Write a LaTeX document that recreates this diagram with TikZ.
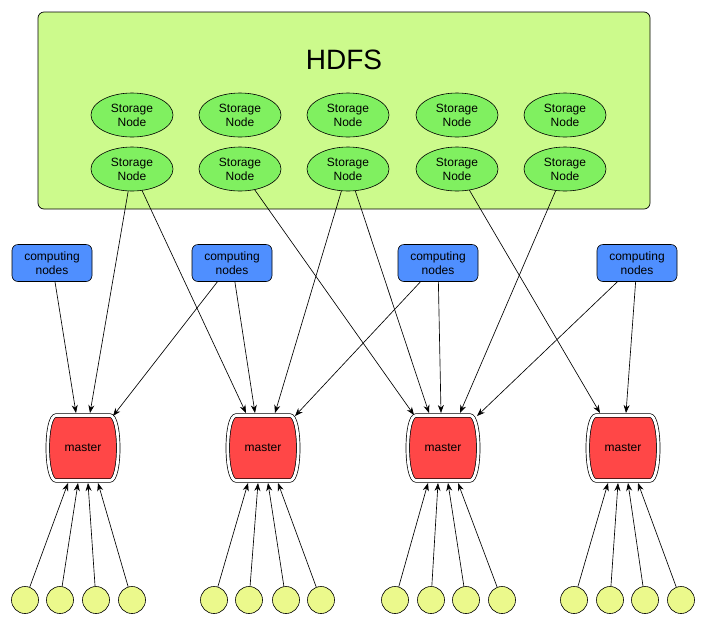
\documentclass[tikz,border=0pt]{standalone}
\usepackage{fontspec}
\setmainfont{Liberation Sans}
\usetikzlibrary{arrows.meta,calc,shapes.geometric}
\definecolor{hdfsfill}{HTML}{CCFA8C}
\definecolor{stfill}{HTML}{80F060}
\definecolor{cnfill}{HTML}{4F8FFF}
\definecolor{mfill}{HTML}{FF4747}
\definecolor{cfill}{HTML}{EBF98C}
\tikzset{
  hdfsbox/.style={draw,fill=hdfsfill,rounded corners=6pt,line width=0.7pt},
  stnode/.style={ellipse,draw,fill=stfill,minimum width=82pt,minimum height=44pt,inner sep=0pt,align=center,font=\fontsize{12}{14}\selectfont,line width=0.6pt},
  cnnode/.style={rectangle,draw,fill=cnfill,rounded corners=6pt,minimum width=80pt,minimum height=37pt,inner sep=0pt,align=center,font=\fontsize{12}{14}\selectfont,line width=0.6pt},
  mnode/.style={rectangle,minimum width=75pt,minimum height=69pt,inner sep=0pt,font=\fontsize{12}{14}\selectfont},
  mshape/.style={fill=mfill,draw=black,double=white,double distance=2.8pt,line width=0.7pt},
  cnode/.style={circle,draw,fill=cfill,minimum size=27pt,inner sep=0pt,line width=0.6pt},
  arr/.style={-{Stealth[length=8pt,width=6pt]},line width=0.65pt}
}
\begin{document}
\begin{tikzpicture}[x=1pt,y=-1pt]
\useasboundingbox (0,0) rectangle (706,625);
% HDFS container
\draw[hdfsbox] (38,12) rectangle (650,209);
\node[font=\fontsize{28}{32}\selectfont] (hdfs) at (344,60) {HDFS};
% storage nodes
\foreach \i/\x in {1/132,2/240,3/348,4/457,5/565}{
  \node[stnode] (a\i) at (\x,115) {Storage\\Node};
  \node[stnode] (s\i) at (\x,169) {Storage\\Node};
}
% computing nodes
\node[cnnode] (cn1) at (52,263) {computing\\nodes};
\node[cnnode] (cn2) at (232,263) {computing\\nodes};
\node[cnnode] (cn3) at (438,263) {computing\\nodes};
\node[cnnode] (cn4) at (637,263) {computing\\nodes};
% masters
\foreach \i/\x in {1/83,2/263,3/443,4/623}{
  \begin{scope}[shift={(\x,448)}]
    \draw[mshape] (-27,-32.5) -- (27,-32.5) .. controls (38,-32.5) and (38,32.5) .. (27,32.5)
      -- (-27,32.5) .. controls (-38,32.5) and (-38,-32.5) .. (-27,-32.5) -- cycle;
  \end{scope}
  \node[mnode] (m\i) at (\x,448) {master};
}
% yellow client nodes
\foreach \g/\xa/\xb/\xc/\xd in {1/25/60/96/132,2/214/249/286/321,3/395/431/466/502,4/574/610/645/681}{
  \node[cnode] (c\g a) at (\xa,600) {};
  \node[cnode] (c\g b) at (\xb,600) {};
  \node[cnode] (c\g c) at (\xc,600) {};
  \node[cnode] (c\g d) at (\xd,600) {};
  \draw[arr] (c\g a) -- ($(m\g)+(-15,35)$);
  \draw[arr] (c\g b) -- ($(m\g)+(-5,35)$);
  \draw[arr] (c\g c) -- ($(m\g)+(5,35)$);
  \draw[arr] (c\g d) -- ($(m\g)+(15,35)$);
}
% master 1 inputs
\draw[arr] (cn1) -- ($(m1)+(-7,-35)$);
\draw[arr] (s1) -- ($(m1)+(7,-35)$);
\draw[arr] (cn2) -- ($(m1)+(30,-32)$);
% master 2 inputs
\draw[arr] (s1) -- ($(m2)+(-17,-35)$);
\draw[arr] (cn2) -- ($(m2)+(-8,-35)$);
\draw[arr] (s3) -- ($(m2)+(12,-35)$);
\draw[arr] (cn3) -- ($(m2)+(32,-32)$);
% master 3 inputs
\draw[arr] (s2) -- ($(m3)+(-29,-33)$);
\draw[arr] (s3) -- ($(m3)+(-14,-35)$);
\draw[arr] (cn3) -- ($(m3)+(-2,-35)$);
\draw[arr] (s5) -- ($(m3)+(17,-35)$);
\draw[arr] (cn4) -- ($(m3)+(34,-32)$);
% master 4 inputs
\draw[arr] (s4) -- ($(m4)+(-23,-35)$);
\draw[arr] (cn4) -- ($(m4)+(3,-35)$);
\end{tikzpicture}
\end{document}
